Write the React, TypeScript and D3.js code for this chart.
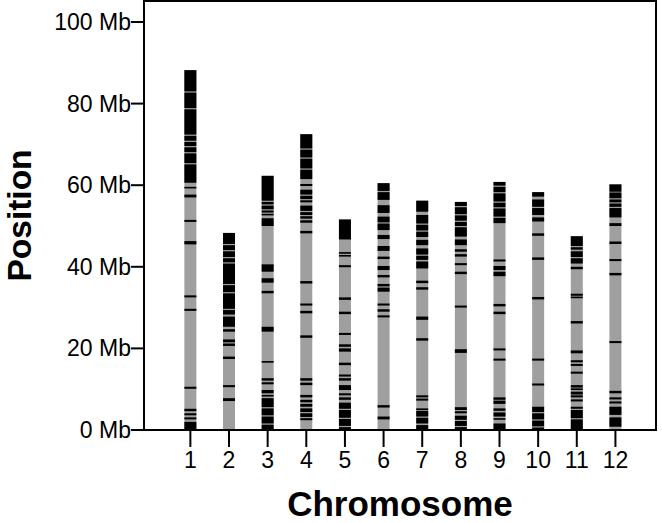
import React from "react";
import * as d3 from "d3";

type Band = [number, number];

const chromosomes = ["1", "2", "3", "4", "5", "6", "7", "8", "9", "10", "11", "12"];
const chromLengthsMb = [88.2, 48.3, 62.3, 72.5, 51.6, 60.5, 56.2, 55.9, 60.8, 58.3, 47.5, 60.2];
const yTicksMb = [0, 20, 40, 60, 80, 100];

// Marker bands (Mb, top -> bottom)
const chr1Markers: Band[] = [[88.2,83.0],[82.7,78.9],[78.6,72.4],[72.1,70.9],[70.6,69.6],[69.3,68.1],[67.8,65.4],[65.1,60.6],[59.6,59.2],[57.7,57.0],[51.5,51.0],[46.3,45.5],[33.0,32.5],[29.7,29.2],[10.6,10.1],[5.2,4.6],[4.1,3.6],[3.1,2.6],[2.0,0]];
const chr2Markers: Band[] = [[48.3,45.6],[45.3,44.1],[43.8,42.4],[42.1,41.1],[40.8,35.8],[35.5,33.8],[33.5,29.7],[29.4,28.3],[27.8,25.3],[24.7,24.1],[22.2,21.5],[21.2,20.6],[18.0,17.4],[11.0,10.5],[7.8,7.1]];
const chr3Markers: Band[] = [[62.3,56.2],[55.9,55.3],[55.0,54.1],[53.8,53.3],[53.0,52.6],[51.9,50.0],[40.6,38.8],[37.2,36.1],[34.1,33.5],[25.3,24.1],[16.9,16.5],[12.7,12.1],[11.7,11.2],[9.8,9.0],[8.6,8.2],[7.8,5.6],[5.3,3.6],[3.3,1.6],[1.3,0]];
const chr4Markers: Band[] = [[72.5,69.0],[68.7,66.8],[66.5,64.1],[63.8,61.5],[60.3,59.8],[58.9,57.7],[57.4,56.6],[56.3,55.8],[55.0,53.7],[53.4,52.7],[52.4,51.8],[51.4,50.8],[48.8,48.2],[36.5,35.9],[31.0,30.5],[29.2,28.6],[23.2,22.6],[12.7,12.1],[11.6,11.0],[8.6,8.0],[7.4,6.8],[6.4,5.7],[5.3,4.4],[4.1,3.2],[2.9,2.4]];
const chr5Markers: Band[] = [[51.6,46.7],[43.6,43.2],[42.9,42.5],[40.4,39.9],[32.5,31.9],[29.0,28.4],[23.8,23.3],[21.0,20.4],[20.0,19.2],[16.5,15.9],[13.6,13.1],[12.7,12.1],[11.0,9.8],[9.0,8.5],[8.0,7.4],[6.7,5.2],[4.9,3.0],[2.7,1.0],[0.7,0]];
const chr6Markers: Band[] = [[60.5,58.6],[58.3,56.4],[55.1,53.2],[52.3,50.9],[50.6,49.0],[47.8,46.8],[45.1,43.9],[42.5,41.9],[40.2,39.2],[38.0,37.4],[35.8,35.2],[34.9,33.9],[31.0,30.5],[29.6,29.0],[28.1,27.6],[6.1,5.5],[3.3,2.6]];
const chr7Markers: Band[] = [[56.2,53.5],[52.7,50.6],[50.3,48.9],[48.6,47.3],[46.6,45.3],[44.5,43.0],[42.7,41.7],[41.3,39.6],[36.6,36.0],[35.0,34.4],[27.8,27.0],[22.5,21.9],[8.5,8.0],[7.7,7.2],[5.3,4.9],[4.7,3.3],[3.0,1.6],[1.2,0]];
const chr8Markers: Band[] = [[55.9,54.9],[54.6,52.9],[52.6,51.3],[51.0,50.0],[49.7,47.4],[46.7,45.3],[44.3,43.7],[43.1,42.5],[40.9,40.4],[38.8,38.2],[30.5,30.0],[19.8,18.9],[5.6,4.9],[4.6,4.1],[3.5,2.5],[2.2,1.0],[0.7,0]];
const chr9Markers: Band[] = [[60.8,59.9],[59.6,58.3],[58.0,56.0],[55.7,54.6],[54.3,52.3],[52.0,50.7],[41.8,41.3],[40.2,39.2],[38.8,37.7],[30.9,30.3],[29.0,28.4],[20.0,19.5],[17.5,17.0],[8.0,7.4],[7.2,6.4],[5.3,4.7],[4.3,3.3],[2.9,2.5],[1.6,0]];
const chr10Markers: Band[] = [[58.3,57.2],[56.5,54.7],[54.4,52.7],[52.1,51.1],[48.2,47.6],[42.3,41.7],[32.6,32.0],[17.5,17.0],[11.4,10.9],[5.7,4.4],[4.1,2.6],[2.3,0.9],[0.6,0]];
const chr11Markers: Band[] = [[47.5,45.1],[44.8,44.2],[43.8,42.4],[42.1,40.8],[40.0,39.4],[33.4,32.9],[32.7,32.3],[26.7,26.1],[19.5,18.8],[17.1,16.6],[16.2,15.7],[14.3,13.8],[11.0,10.4],[10.2,9.8],[9.4,8.7],[8.5,8.0],[7.5,7.0],[5.7,5.2],[4.9,2.9],[2.6,0]];
const chr12Markers: Band[] = [[60.2,58.4],[58.2,56.8],[56.5,55.8],[55.5,54.7],[54.4,52.1],[50.7,50.0],[46.2,45.6],[41.9,41.4],[38.5,37.9],[21.8,21.3],[9.6,9.0],[8.0,7.5],[7.0,6.5],[5.7,3.7],[3.1,0.8]];

const markerSets: Band[][] = [chr1Markers, chr2Markers, chr3Markers, chr4Markers, chr5Markers, chr6Markers, chr7Markers, chr8Markers, chr9Markers, chr10Markers, chr11Markers, chr12Markers];

const W = 662;
const H = 523;
const left = 144;
const right = 656;
const top = 1;
const bottom = 430;
const barW = 12;
const FONT = "'Liberation Sans', Arial, Helvetica, sans-serif";

export default function App() {
  const x = d3.scaleLinear().domain([-0.2, 13.05]).range([left, right]);
  const y = d3.scaleLinear().domain([0, 100]).range([bottom, 22]);

  return (
    <div style={{ position: "fixed", left: 0, top: 0 }}>
      <svg width={W} height={H} style={{ display: "block", background: "#fff" }}>
        {chromosomes.map((c, i) => {
          const cx = x(i + 1);
          return (
            <g key={c}>
              <rect x={cx - barW / 2} y={y(chromLengthsMb[i])} width={barW} height={y(0) - y(chromLengthsMb[i])} fill="#9f9f9f" />
              {markerSets[i].map(([a, b], j) => {
                const y0 = y(a);
                const h = Math.max(1.6, y(b) - y(a));
                return <rect key={j} x={cx - barW / 2} y={y0} width={barW} height={h} fill="#000" />;
              })}
            </g>
          );
        })}
        <rect x={left} y={top} width={right - left} height={bottom - top} fill="none" stroke="#000" strokeWidth={2} />
        {yTicksMb.map((t) => (
          <g key={t}>
            <line x1={left - 13} x2={left} y1={y(t)} y2={y(t)} stroke="#000" strokeWidth={2} />
            <text x={left - 13} y={y(t) + 8} textAnchor="end" fontFamily={FONT} fontSize={23} fill="#000">{`${t} Mb`}</text>
          </g>
        ))}
        {chromosomes.map((c, i) => (
          <g key={c}>
            <line x1={x(i + 1)} x2={x(i + 1)} y1={bottom} y2={bottom + 17} stroke="#000" strokeWidth={2} />
            <text x={x(i + 1)} y={468} textAnchor="middle" fontFamily={FONT} fontSize={23} fill="#000">{c}</text>
          </g>
        ))}
        <text x={(left + right) / 2} y={516} textAnchor="middle" fontFamily={FONT} fontWeight="bold" fontSize={35} fill="#000">Chromosome</text>
        <text transform={`translate(31, ${(top + bottom) / 2}) rotate(-90)`} textAnchor="middle" fontFamily={FONT} fontWeight="bold" fontSize={33.5} fill="#000">Position</text>
      </svg>
    </div>
  );
}
